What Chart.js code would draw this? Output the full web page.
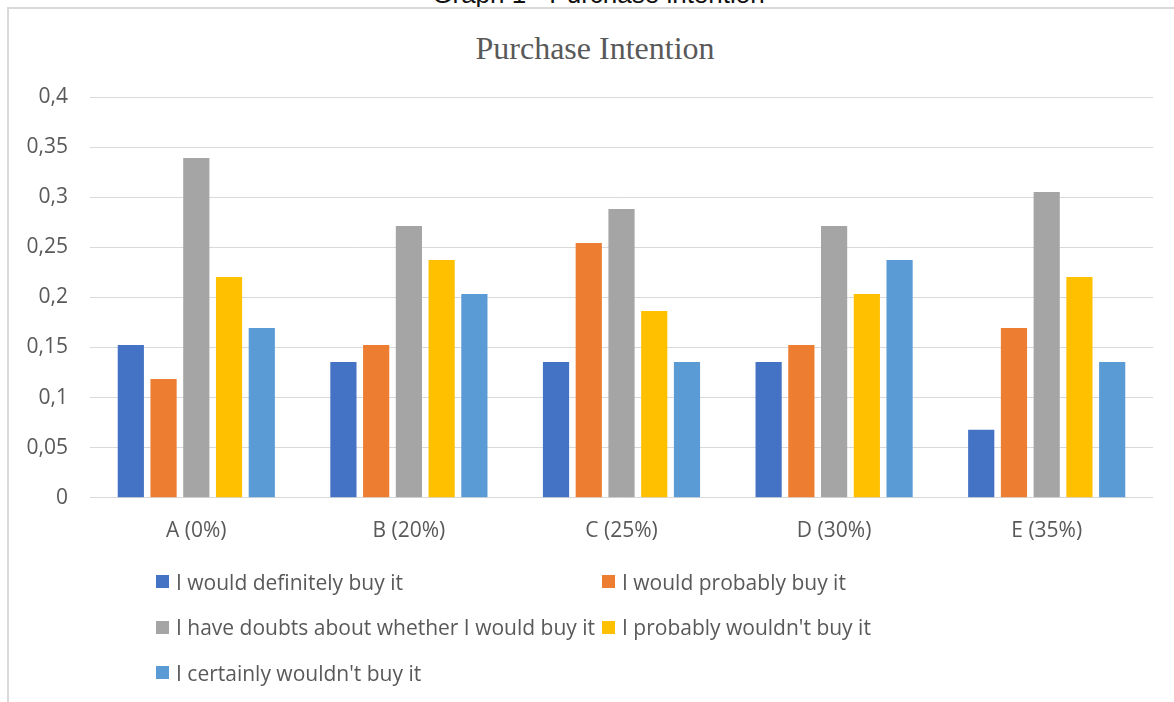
<!DOCTYPE html>
<html>
<head>
<meta charset="utf-8">
<script src="https://cdn.jsdelivr.net/npm/chart.js@4.4.0/dist/chart.umd.min.js"></script>
<style>
  html, body { margin: 0; padding: 0; background: #fff; overflow: hidden; }
  #wrap { position: relative; width: 1174px; height: 702px; }
  #caption {
    position: absolute; left: 0; width: 1197px; top: -19px; text-align: center;
    font: 26px "Liberation Sans", Arial, sans-serif; line-height: 26px; color: #111;
  }
  #frame {
    position: absolute; left: 7px; top: 7px; width: 1200px; height: 720px;
    border-top: 2px solid #d9d9d9; border-left: 2px solid #d9d9d9;
  }
  #title {
    position: absolute; left: 0; width: 1190px; top: 28px; text-align: center;
    font: 32px "Liberation Serif", serif; line-height: 40px; color: #595959;
  }
  #chart { position: absolute; left: 0; top: 0; }
  #legend {
    position: absolute; left: 156px; top: 559px;
    display: grid; grid-template-columns: 446px 446px; grid-auto-rows: 45.5px;
    font: 21px "Open Sans", sans-serif; color: #595959;
  }
  #legend .item { display: flex; align-items: center; white-space: nowrap; }
  #legend .box { width: 13px; height: 13px; margin-right: 7px; flex: none; }
</style>
</head>
<body>
<div id="wrap">
  <div id="caption">Graph 1 - Purchase intention</div>
  <div id="frame"></div>
  <div id="title">Purchase Intention</div>
  <canvas id="chart" width="1174" height="702"></canvas>
  <div id="legend"></div>
</div>
<script>
const categories = ["A (0%)", "B (20%)", "C (25%)", "D (30%)", "E (35%)"];
const seriesNames = [
  "I would definitely buy it",
  "I would probably buy it",
  "I have doubts about whether I would buy it",
  "I probably wouldn't buy it",
  "I certainly wouldn't buy it"
];
const definitely = [0.1525, 0.1356, 0.1356, 0.1356, 0.0678];
const probably = [0.1186, 0.1525, 0.2542, 0.1525, 0.1695];
const doubts = [0.339, 0.2712, 0.2881, 0.2712, 0.3051];
const probablyNot = [0.2203, 0.2373, 0.1864, 0.2034, 0.2203];
const certainlyNot = [0.1695, 0.2034, 0.1356, 0.2373, 0.1356];
const yTickLabels = ["0", "0,05", "0,1", "0,15", "0,2", "0,25", "0,3", "0,35", "0,4"];
const colors = ["#4472C4", "#ED7D31", "#A5A5A5", "#FFC000", "#5B9BD5"];

const values = [definitely, probably, doubts, probablyNot, certainlyNot];
const grey = "#595959";

const chart = new Chart(document.getElementById("chart"), {
  type: "bar",
  data: {
    labels: categories,
    datasets: values.map((v, i) => ({
      label: seriesNames[i],
      data: v,
      backgroundColor: colors[i],
      categoryPercentage: 0.77,
      barPercentage: 0.8
    }))
  },
  options: {
    responsive: false,
    animation: false,
    layout: { padding: { left: 10, right: 21, top: 97, bottom: 137 } },
    plugins: {
      legend: { display: false },
      tooltip: { enabled: false },
      title: { display: false }
    },
    scales: {
      x: {
        grid: { display: false, drawTicks: false },
        border: { display: false },
        ticks: { color: grey, padding: 21, font: { family: "Open Sans", size: 21 } }
      },
      y: {
        min: 0,
        max: 0.4,
        afterFit: s => { s.width = 80; },
        grid: { color: "#d9d9d9", lineWidth: 1, drawTicks: false },
        border: { display: false },
        ticks: {
          stepSize: 0.05,
          padding: 22,
          color: grey,
          font: { family: "Open Sans", size: 21 },
          callback: (v, i) => yTickLabels[i]
        }
      }
    }
  }
});

// legend in two columns like the original
const legendEl = document.getElementById("legend");
chart.data.datasets.forEach(ds => {
  const item = document.createElement("div");
  item.className = "item";
  item.innerHTML = `<span class="box" style="background:${ds.backgroundColor}"></span><span>${ds.label}</span>`;
  legendEl.appendChild(item);
});
</script>
</body>
</html>
